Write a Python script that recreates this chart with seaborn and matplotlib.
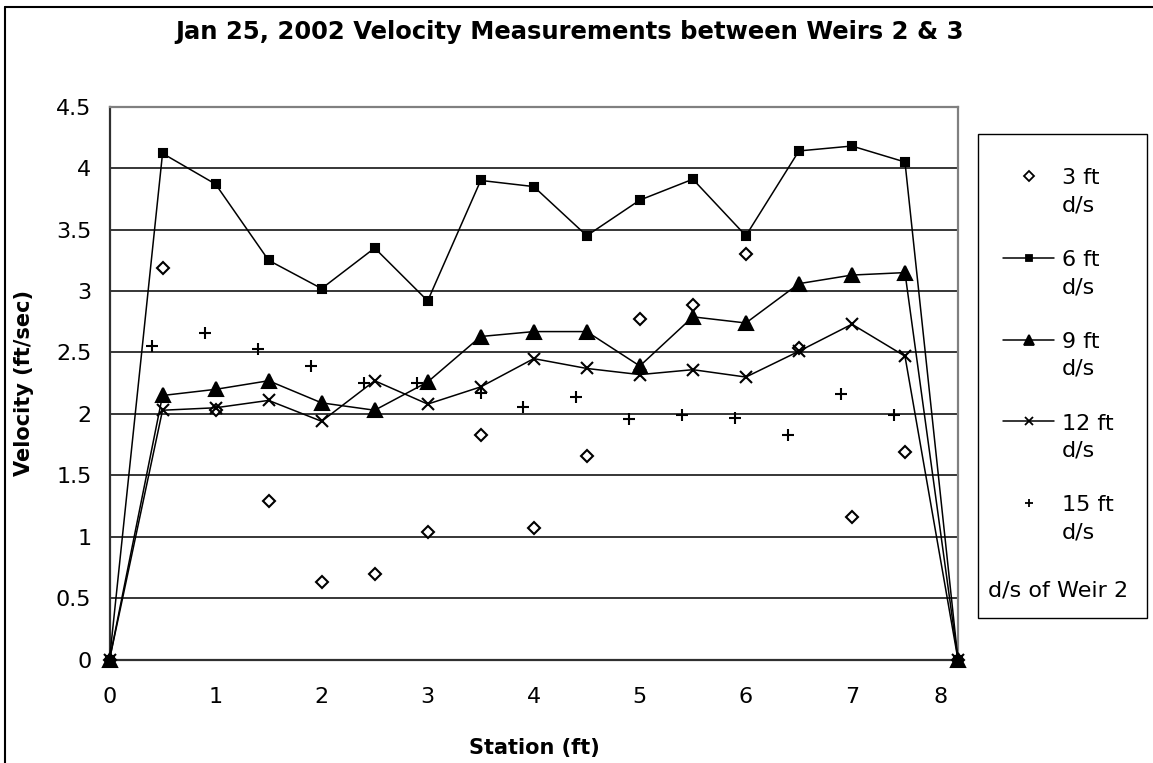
import numpy as np
import pandas as pd
import matplotlib
matplotlib.use('Agg')
import matplotlib.pyplot as plt
from matplotlib.lines import Line2D
from matplotlib.patches import Rectangle
from matplotlib.legend_handler import HandlerLine2D
from matplotlib.ticker import FuncFormatter
from matplotlib.transforms import ScaledTranslation
import seaborn as sns

# station positions (ft)
station = [0, 0.5, 1, 1.5, 2, 2.5, 3, 3.5, 4, 4.5, 5, 5.5, 6, 6.5, 7, 7.5, 8]
station_15 = [0, 0.4, 0.9, 1.4, 1.9, 2.4, 2.9, 3.5, 3.9, 4.4, 4.9, 5.4, 5.9, 6.4, 6.9, 7.4, 8]

# velocities (ft/sec) at each distance d/s of Weir 2
v3 = [0, 3.19, 2.03, 1.29, 0.63, 0.70, 1.04, 1.83, 1.07, 1.66, 2.77, 2.89, 3.30, 2.54, 1.16, 1.69, 0]
v6 = [0, 4.12, 3.87, 3.25, 3.02, 3.35, 2.92, 3.90, 3.85, 3.45, 3.74, 3.91, 3.45, 4.14, 4.18, 4.05, 0]
v9 = [0, 2.15, 2.20, 2.27, 2.09, 2.03, 2.26, 2.63, 2.67, 2.67, 2.39, 2.79, 2.74, 3.06, 3.13, 3.15, 0]
v12 = [0, 2.03, 2.05, 2.11, 1.94, 2.27, 2.08, 2.22, 2.45, 2.37, 2.32, 2.36, 2.30, 2.51, 2.73, 2.47, 0]
v15 = [0, 2.55, 2.66, 2.53, 2.39, 2.25, 2.25, 2.17, 2.06, 2.14, 1.96, 1.99, 1.97, 1.83, 2.16, 1.99, 0]

labels = ['3 ft\nd/s', '6 ft\nd/s', '9 ft\nd/s', '12 ft\nd/s', '15 ft\nd/s']
title = 'Jan 25, 2002 Velocity Measurements between Weirs 2 & 3'

df = pd.DataFrame({'station': station, 'v3': v3, 'v6': v6, 'v9': v9, 'v12': v12})
df15 = pd.DataFrame({'station': station_15, 'v15': v15})

sns.set_style('white')
plt.rcParams['font.family'] = ['DejaVu Sans']
plt.rcParams['text.color'] = 'black'
plt.rcParams['axes.labelcolor'] = 'black'

fig = plt.figure(figsize=(11.53, 7.63), dpi=100)
ax = fig.add_axes([109.5/1153, 1-659.7/763, (958-109.5)/1153, (659.7-106.7)/763])

# (column, marker, size, filled, connected)
styles = [('v3', 'D', 6.5, False, False),
          ('v6', 's', 6, True, True),
          ('v9', '^', 9.5, True, True),
          ('v12', 'x', 8, True, True),
          ('v15', '+', 8, True, False)]

handles = []
for (col, mk, ms, filled, connected), lab in zip(styles, labels):
    data = df15 if col == 'v15' else df
    sns.lineplot(data=data, x='station', y=col, ax=ax, color='black',
                 linestyle='-' if connected else 'none', linewidth=1.1,
                 marker=mk, markersize=ms, markeredgewidth=1.5,
                 markerfacecolor='black' if filled else 'white',
                 markeredgecolor='black', clip_on=False, zorder=3)
    handles.append(Line2D([], [], color='black', linestyle='-' if connected else 'none',
                          linewidth=1.1, marker=mk, markersize=ms * 0.8,
                          markeredgewidth=1.3,
                          markerfacecolor='black' if filled else 'white',
                          markeredgecolor='black'))

ax.set_xlim(0, 8)
ax.set_ylim(0, 4.5)
ax.set_xticks(range(0, 9))
ax.set_yticks(np.arange(0, 4.51, 0.5))
ax.yaxis.set_major_formatter(FuncFormatter(lambda v, p: '%g' % v))
ax.yaxis.grid(True, color='black', linewidth=1.1)
ax.set_axisbelow(True)
ax.set_xlabel('')
ax.set_ylabel('')
ax.tick_params(axis='both', labelsize=16, colors='black', labelcolor='black', direction='out')
ax.tick_params(axis='y', length=5, width=1, pad=8)
ax.tick_params(axis='x', length=8, width=1, pad=12)
for side in ['left', 'bottom']:
    ax.spines[side].set_color('#303030')
    ax.spines[side].set_linewidth(1.6)
for side in ['top', 'right']:
    ax.spines[side].set_color('#808080')
    ax.spines[side].set_linewidth(1.6)

# last x label sits a little left of its tick, as in the original
last = ax.get_xticklabels()[-1]
last.set_transform(last.get_transform() + ScaledTranslation(-0.17, 0, fig.dpi_scale_trans))


class TopLineHandler(HandlerLine2D):
    # put the legend key beside the first line of a two-line label
    def create_artists(self, legend, orig_handle, xdescent, ydescent, width, height, fontsize, trans):
        arts = super().create_artists(legend, orig_handle, xdescent, ydescent, width, height, fontsize, trans)
        for a in arts:
            a.set_ydata(np.asarray(a.get_ydata(), dtype=float) + 0.72 * fontsize)
        return arts


leg = fig.legend(handles, labels, loc='upper left', bbox_to_anchor=(1003/1153, 1-168/763),
                 frameon=False, fontsize=16, handlelength=2.3, handletextpad=0.35,
                 labelspacing=1.56, borderpad=0, borderaxespad=0,
                 handler_map={Line2D: TopLineHandler()})
for t in leg.get_texts():
    t.set_linespacing(1.45)
    t.set_color('black')

fig.add_artist(Rectangle((978/1153, 1-618/763), (1147-978)/1153, (618-134)/763,
                         transform=fig.transFigure, fill=False, edgecolor='black', linewidth=1))
fig.text(988/1153, 1-590/763, 'd/s of Weir 2', fontsize=16, ha='left', va='center', color='black')

fig.text(570/1153, 1-32/763, title, fontsize=17.5, weight='bold', ha='center', va='center',
         color='black')
fig.text(24/1153, 1-383/763, 'Velocity (ft/sec)', fontsize=15, weight='bold',
         rotation=90, ha='center', va='center', color='black')
fig.text(534/1153, 1-748/763, 'Station (ft)', fontsize=15, weight='bold', ha='center', va='center',
         color='black')

# outer chart border (top and left edges visible)
fig.add_artist(Line2D([5/1153, 1], [1-6.5/763, 1-6.5/763], transform=fig.transFigure,
                      color='black', linewidth=1.5))
fig.add_artist(Line2D([5/1153, 5/1153], [0, 1-6.5/763], transform=fig.transFigure,
                      color='black', linewidth=1.5))

fig.savefig('out.png', dpi=100)
